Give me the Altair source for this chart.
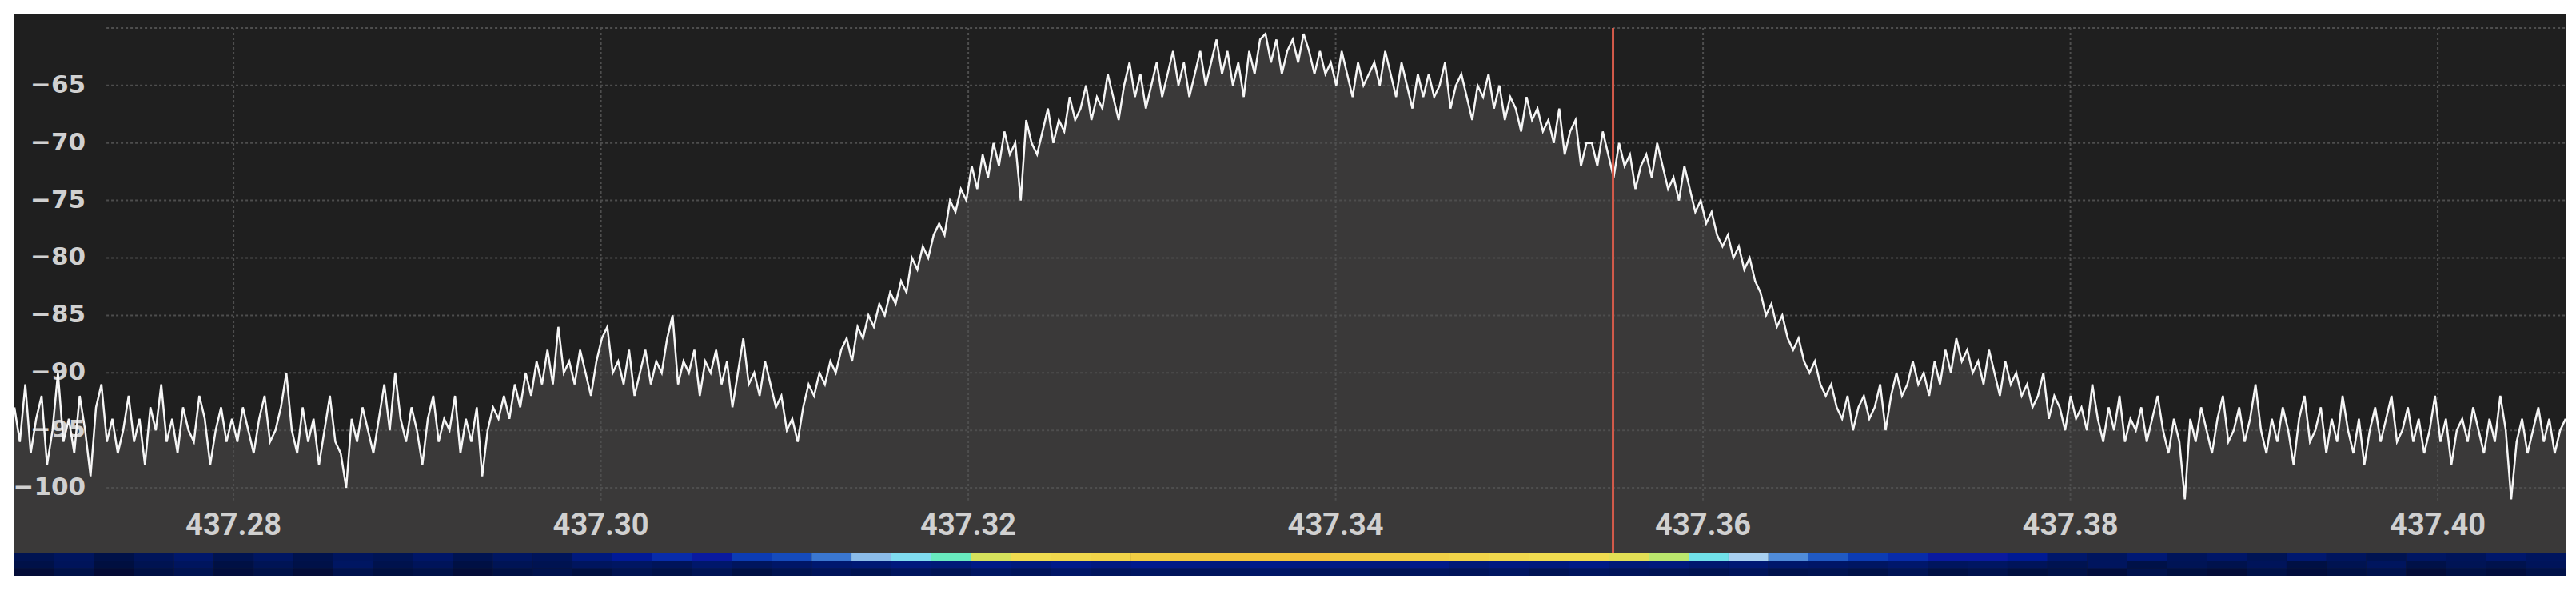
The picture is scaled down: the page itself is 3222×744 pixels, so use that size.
import altair as alt
import numpy as np
import pandas as pd

# ---------------- data ----------------
F_MIN = 437.26807
F_MAX = 437.40696
Y_MIN = -105.7          # bottom of spectrum area (top of waterfall strip)
Y_MAX = -58.75
Y_WF_BOTTOM = -107.65   # bottom of waterfall strip on the same scale

power_db = [
    -93, -96, -91, -97, -94, -92, -98, -95, -90, -96,
    -94, -97, -92, -95, -99, -93, -91, -96, -94, -97,
    -95, -92, -96, -94, -98, -93, -95, -91, -96, -94,
    -97, -93, -95, -96, -92, -94, -98, -95, -93, -96,
    -94, -96, -93, -95, -97, -94, -92, -96, -95, -93,
    -90, -95, -97, -93, -96, -94, -98, -95, -92, -96,
    -97, -100, -94, -96, -93, -95, -97, -94, -91, -95,
    -90, -94, -96, -93, -95, -98, -94, -92, -96, -94,
    -95, -92, -97, -94, -96, -93, -99, -95, -93, -94,
    -92, -94, -91, -93, -90, -92, -89, -91, -88, -91,
    -86, -90, -89, -91, -88, -90, -92, -89, -87, -86,
    -90, -89, -91, -88, -92, -90, -88, -91, -89, -90,
    -87, -85, -91, -89, -90, -88, -92, -89, -90, -88,
    -91, -89, -93, -90, -87, -91, -90, -92, -89, -91,
    -93, -92, -95, -94, -96, -93, -91, -92, -90, -91,
    -89, -90, -88, -87, -89, -86, -87, -85, -86, -84,
    -85, -83, -84, -82, -83, -80, -81, -79, -80, -78,
    -77, -78, -75, -76, -74, -75, -72, -74, -71, -73,
    -70, -72, -69, -71, -70, -75, -68, -70, -71, -69,
    -67, -70, -68, -69, -66, -68, -67, -65, -68, -66,
    -67, -64, -66, -68, -65, -63, -66, -64, -67, -65,
    -63, -66, -64, -62, -65, -63, -66, -64, -62, -65,
    -63, -61, -64, -62, -65, -63, -66, -62, -64, -61,
    -60.5, -63, -61, -64, -62, -61, -63, -60.5, -62, -64,
    -62, -64, -63, -65, -62, -64, -66, -63, -65, -64,
    -63, -65, -62, -64, -66, -63, -65, -67, -64, -66,
    -64, -66, -65, -63, -67, -65, -64, -66, -68, -65,
    -66, -64, -67, -65, -68, -66, -67, -69, -66, -68,
    -67, -69, -68, -70, -67, -71, -69, -68, -72, -70,
    -70, -72, -69, -71, -73, -70, -72, -71, -74, -72,
    -71, -73, -70, -72, -74, -73, -75, -72, -74, -76,
    -75, -77, -76, -78, -79, -78, -80, -79, -81, -80,
    -82, -83, -85, -84, -86, -85, -87, -88, -87, -89,
    -90, -89, -91, -92, -91, -93, -94, -92, -95, -93,
    -92, -94, -93, -91, -95, -92, -90, -92, -91, -89,
    -91, -90, -92, -89, -91, -88, -90, -87, -89, -88,
    -90, -89, -91, -88, -90, -92, -89, -91, -90, -92,
    -91, -93, -92, -90, -94, -92, -93, -95, -92, -94,
    -93, -95, -91, -94, -96, -93, -95, -92, -96, -94,
    -95, -93, -96, -94, -92, -95, -97, -94, -96, -101,
    -94, -96, -93, -95, -97, -94, -92, -96, -95, -93,
    -96, -94, -91, -95, -97, -94, -96, -93, -95, -98,
    -94, -92, -96, -95, -93, -97, -94, -96, -92, -95,
    -97, -94, -98, -95, -93, -96, -94, -92, -96, -95,
    -93, -96, -94, -97, -95, -92, -96, -94, -98, -95,
    -94, -96, -93, -95, -97, -94, -96, -92, -95, -101,
    -96, -94, -97, -95, -93, -96, -94, -97, -95, -94,
]

x_ticks = [437.28, 437.30, 437.32, 437.34, 437.36, 437.38, 437.40]
y_ticks = [-100, -95, -90, -85, -80, -75, -70, -65]
grid_levels = [-60, -65, -70, -75, -80, -85, -90, -95, -100]
grid_x_start = 437.27308
grid_y_bottom = -101.1
marker_freq = 437.3551
x_label_level = -103.33      # level at which frequency labels sit
y_label_freq = 437.27195     # frequency at which dB labels end

# waterfall intensities (0..1), newest row on top
wf_row0 = [0.12, 0.15, 0.10, 0.14, 0.18, 0.12, 0.16, 0.11, 0.15, 0.13,
           0.17, 0.12, 0.16, 0.14, 0.22, 0.28, 0.32, 0.30, 0.34, 0.36,
           0.42, 0.52, 0.60, 0.68, 0.78, 0.80, 0.81, 0.82, 0.84, 0.85,
           0.86, 0.86, 0.87, 0.85, 0.84, 0.83, 0.82, 0.81, 0.80, 0.80,
           0.79, 0.76, 0.62, 0.55, 0.45, 0.38, 0.34, 0.32, 0.30, 0.30,
           0.27, 0.18, 0.15, 0.20, 0.14, 0.17, 0.13, 0.19, 0.15, 0.12,
           0.16, 0.14, 0.18, 0.15]
wf_row1 = [0.10, 0.14, 0.08, 0.12, 0.15, 0.09, 0.13, 0.10, 0.16, 0.11,
           0.14, 0.09, 0.13, 0.12, 0.15, 0.16, 0.14, 0.18, 0.15, 0.17,
           0.19, 0.20, 0.22, 0.21, 0.24, 0.22, 0.25, 0.23, 0.26, 0.24,
           0.22, 0.25, 0.23, 0.24, 0.22, 0.25, 0.21, 0.23, 0.22, 0.24,
           0.21, 0.22, 0.19, 0.20, 0.18, 0.17, 0.16, 0.18, 0.15, 0.16,
           0.14, 0.12, 0.15, 0.10, 0.13, 0.11, 0.14, 0.09, 0.12, 0.15,
           0.10, 0.13, 0.11, 0.14]
wf_row2 = [0.06, 0.10, 0.05, 0.09, 0.12, 0.07, 0.10, 0.06, 0.11, 0.08,
           0.10, 0.06, 0.09, 0.11, 0.08, 0.12, 0.10, 0.13, 0.09, 0.12,
           0.14, 0.12, 0.15, 0.13, 0.16, 0.14, 0.17, 0.15, 0.16, 0.14,
           0.15, 0.17, 0.14, 0.16, 0.13, 0.15, 0.14, 0.16, 0.13, 0.15,
           0.14, 0.13, 0.12, 0.14, 0.11, 0.12, 0.10, 0.13, 0.09, 0.11,
           0.08, 0.10, 0.07, 0.11, 0.08, 0.06, 0.10, 0.07, 0.09, 0.11,
           0.06, 0.09, 0.07, 0.10]

wf_colors = ["#000020", "#0a1aa0", "#a8d0f0", "#f0dc50", "#f08c28"]
wf_stops = [0.0, 0.3, 0.55, 0.8, 1.0]

# ---------------- tables ----------------
freq = np.linspace(F_MIN, F_MAX, len(power_db))
spec = pd.DataFrame({"freq": freq, "db": power_db, "floor": Y_MIN})

hgrid_df = pd.DataFrame({"lvl": grid_levels, "x0": grid_x_start, "x1": F_MAX})
vgrid_df = pd.DataFrame({"f": x_ticks, "top": grid_levels[0], "bot": grid_y_bottom})
xlab_df = pd.DataFrame({"f": x_ticks, "lvl": x_label_level})
ylab_df = pd.DataFrame({"v": y_ticks, "f": y_label_freq})
marker_df = pd.DataFrame({"m": [marker_freq], "top": [grid_levels[0]], "bot": [Y_MIN]})

n_bins = len(wf_row0)
edges = np.linspace(F_MIN, F_MAX, n_bins + 1)
wf_rows = [wf_row0, wf_row1, wf_row2]
row_edges = np.linspace(Y_MIN, Y_WF_BOTTOM, len(wf_rows) + 1)
rows = []
for r, vals in enumerate(wf_rows):
    for k, v in enumerate(vals):
        rows.append({"f0": edges[k], "f1": edges[k + 1],
                     "r0": row_edges[r], "r1": row_edges[r + 1], "val": v})
wdf = pd.DataFrame(rows)

# ---------------- chart ----------------
W = 3191
H = 703

xscale = alt.Scale(domain=[F_MIN, F_MAX], nice=False, zero=False)
yscale = alt.Scale(domain=[Y_WF_BOTTOM, Y_MAX], nice=False, zero=False)

label_col = "#d0d0d0"
grid_col = "#4e4e4e"

area = alt.Chart(spec).mark_area(color="#3a3939", clip=True).encode(
    x=alt.X("freq:Q", scale=xscale, axis=None),
    y=alt.Y("db:Q", scale=yscale, axis=None),
    y2="floor:Q",
)

hgrid = alt.Chart(hgrid_df).mark_rule(
    color=grid_col, strokeWidth=2, strokeDash=[3, 3]
).encode(
    y=alt.Y("lvl:Q", axis=None),
    x=alt.X("x0:Q", axis=None),
    x2="x1:Q",
)

vgrid = alt.Chart(vgrid_df).mark_rule(
    color=grid_col, strokeWidth=2, strokeDash=[3, 3]
).encode(
    x=alt.X("f:Q", axis=None),
    y=alt.Y("top:Q", axis=None),
    y2="bot:Q",
)

xlabels = alt.Chart(xlab_df).mark_text(
    font="Roboto", fontSize=38, fontWeight="bold", color=label_col,
    align="center", baseline="middle"
).encode(
    x=alt.X("f:Q", axis=None),
    y=alt.Y("lvl:Q", axis=None),
    text=alt.Text("f:Q", format=".2f"),
)

ylabels = alt.Chart(ylab_df).mark_text(
    font="DejaVu Sans", fontSize=31, fontWeight="bold", color=label_col,
    align="right", baseline="middle"
).encode(
    y=alt.Y("v:Q", axis=None),
    x=alt.X("f:Q", axis=None),
    text=alt.Text("v:Q", format="d"),
)

line = alt.Chart(spec).mark_line(color="#f6f6f6", strokeWidth=2.5, clip=True).encode(
    x=alt.X("freq:Q", axis=None),
    y=alt.Y("db:Q", axis=None),
)

marker = alt.Chart(marker_df).mark_rule(color="#d25a4a", strokeWidth=3).encode(
    x=alt.X("m:Q", axis=None),
    y=alt.Y("top:Q", axis=None),
    y2="bot:Q",
)

waterfall = alt.Chart(wdf).mark_rect(strokeWidth=0).encode(
    x=alt.X("f0:Q", axis=None),
    x2="f1:Q",
    y=alt.Y("r0:Q", axis=None),
    y2="r1:Q",
    color=alt.Color("val:Q", legend=None,
                    scale=alt.Scale(domain=wf_stops, range=wf_colors)),
)

chart = alt.layer(area, hgrid, vgrid, xlabels, ylabels, line, marker, waterfall).properties(
    width=W, height=H,
    padding={"left": 10, "top": 9, "right": 5, "bottom": 5},
    autosize=alt.AutoSizeParams(type="none"),
    background="white",
).configure_view(stroke=None, fill="#1f1f1f")

chart.save("out.html", embed_options={"renderer": "svg", "actions": False})
